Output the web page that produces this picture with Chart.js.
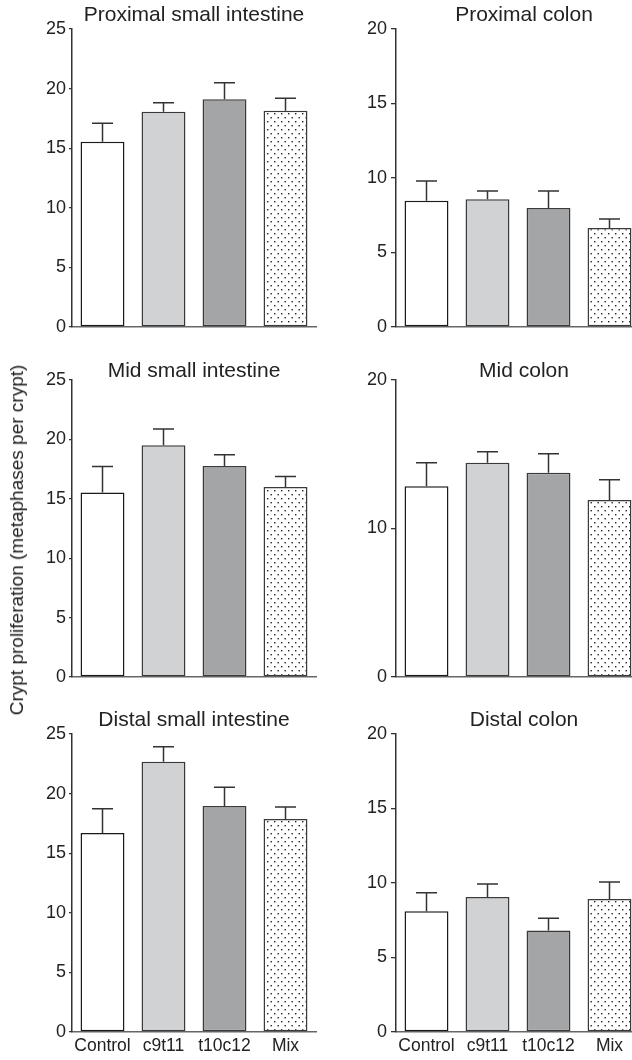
<!DOCTYPE html>
<html>
<head>
<meta charset="utf-8">
<script src="https://cdn.jsdelivr.net/npm/chart.js@4.4.1/dist/chart.umd.min.js"></script>
<style>
  html, body { margin: 0; padding: 0; background: #fff; overflow: hidden; width: 632px; height: 1060px; position: relative; }
  canvas { position: absolute; }
  #ytitle {
    position: absolute; left: 17px; top: 540px;
    transform: translate(-50%, -50%) rotate(-90deg);
    white-space: nowrap; font: 19px "Liberation Sans", Arial, sans-serif; color: #222;
  }
</style>
</head>
<body>
<canvas id="c1" width="320" height="345" style="left:0;top:0"></canvas>
<canvas id="c2" width="320" height="345" style="left:320px;top:0"></canvas>
<canvas id="c3" width="320" height="350" style="left:0;top:345px"></canvas>
<canvas id="c4" width="320" height="350" style="left:320px;top:345px"></canvas>
<canvas id="c5" width="320" height="360" style="left:0;top:700px"></canvas>
<canvas id="c6" width="320" height="360" style="left:320px;top:700px"></canvas>
<div id="ytitle">Crypt proliferation (metaphases per crypt)</div>
<script>
// Treatment groups
const groups = ['Control', 'c9t11', 't10c12', 'Mix'];

// Metaphases per crypt: mean and SEM per segment
const proxSmallMean = [15.55, 18.06, 19.1, 18.15];
const proxSmallSem  = [1.55, 0.75, 1.4, 1.05];
const proxColonMean = [8.47, 8.57, 7.98, 6.64];
const proxColonSem  = [1.33, 0.56, 1.15, 0.6];
const midSmallMean  = [15.52, 19.51, 17.77, 16.0];
const midSmallSem   = [2.19, 1.37, 0.93, 0.87];
const midColonMean  = [12.85, 14.43, 13.76, 11.92];
const midColonSem   = [1.58, 0.74, 1.28, 1.37];
const distSmallMean = [16.69, 22.68, 18.96, 17.87];
const distSmallSem  = [2.04, 1.26, 1.57, 1.01];
const distColonMean = [8.1, 9.06, 6.82, 8.93];
const distColonSem  = [1.25, 0.87, 0.81, 1.14];

// Axis ranges
const smallMax = 25, smallStep = 5;
const colonMax = 20, colonStep = 5, midColonStep = 10;

const FONT = '"Liberation Sans", Arial, Helvetica, sans-serif';

// Stippled fill for the Mix bars
function dotPattern() {
  const t = document.createElement('canvas');
  t.width = 7; t.height = 8;
  const g = t.getContext('2d');
  g.fillStyle = '#fff'; g.fillRect(0, 0, 7, 8);
  g.fillStyle = '#222';
  g.fillRect(1, 1, 1.4, 1.4);
  g.fillRect(4.5, 5, 1.4, 1.4);
  return g.createPattern(t, 'repeat');
}

// Upward SEM whiskers with a cap
const errorBars = {
  id: 'errorBars',
  afterDatasetsDraw(chart) {
    const ctx = chart.ctx, y = chart.scales.y;
    chart.data.datasets.forEach((ds, i) => {
      chart.getDatasetMeta(i).data.forEach((bar, j) => {
        const top = y.getPixelForValue(ds.data[j] + ds.errors[j]);
        ctx.save();
        ctx.strokeStyle = '#333';
        ctx.lineWidth = 1.5;
        ctx.beginPath();
        ctx.moveTo(bar.x, bar.y);
        ctx.lineTo(bar.x, top);
        ctx.moveTo(bar.x - 10.5, top);
        ctx.lineTo(bar.x + 10.5, top);
        ctx.stroke();
        ctx.restore();
      });
    });
  }
};

// Panel heading
const panelTitle = {
  id: 'panelTitle',
  afterDraw(chart, args, opts) {
    const ctx = chart.ctx;
    ctx.save();
    ctx.font = '21px ' + FONT;
    ctx.fillStyle = '#222';
    ctx.textAlign = 'center';
    ctx.textBaseline = 'alphabetic';
    ctx.fillText(opts.text, opts.x, opts.y);
    ctx.restore();
  }
};

const stipple = dotPattern();

function panel(p) {
  const canvas = document.getElementById(p.id);
  const W = canvas.width, H = canvas.height;
  new Chart(canvas, {
    type: 'bar',
    data: {
      labels: groups,
      datasets: [{
        data: p.mean,
        errors: p.sem,
        backgroundColor: ['#ffffff', '#d1d2d4', '#a4a5a7', stipple],
        borderColor: ['#1a1a1a', '#3a3a3a', '#3a3a3a', '#3a3a3a'],
        borderWidth: 1.5,
        borderSkipped: false,
        categoryPercentage: 1,
        barPercentage: 0.72
      }]
    },
    options: {
      responsive: false,
      animation: false,
      events: [],
      layout: { padding: { top: p.top, right: W - p.right, bottom: 0, left: 0 } },
      plugins: {
        legend: { display: false },
        tooltip: { enabled: false },
        panelTitle: { text: p.title, x: p.titleX, y: p.titleY }
      },
      scales: {
        x: {
          grid: { display: false, drawTicks: false },
          border: { display: true, color: '#666', width: 1.5 },
          ticks: { display: p.xLabels, padding: 4, color: '#222', font: { family: FONT, size: 17.5 }, maxRotation: 0 },
          afterFit: s => { s.height = H - p.bottom; }
        },
        y: {
          min: 0, max: p.max,
          grid: { display: true, drawOnChartArea: false, drawTicks: true, tickLength: p.tickLen, color: '#333', lineWidth: 1.3 },
          border: { display: true, color: '#333', width: 1.5 },
          ticks: { stepSize: p.step, padding: p.tickPad, color: '#222', font: { family: FONT, size: 18 } },
          afterFit: s => { s.width = p.left; }
        }
      }
    },
    plugins: [errorBars, panelTitle]
  });
}

panel({ id: 'c1', title: 'Proximal small intestine', mean: proxSmallMean, sem: proxSmallSem, max: smallMax, step: smallStep,
        xLabels: false, left: 72, right: 316, top: 29, bottom: 327, tickLen: 3, tickPad: 3, titleX: 194, titleY: 21 });
panel({ id: 'c2', title: 'Proximal colon', mean: proxColonMean, sem: proxColonSem, max: colonMax, step: colonStep,
        xLabels: false, left: 76, right: 320, top: 29, bottom: 327, tickLen: 5, tickPad: 4, titleX: 204, titleY: 21 });
panel({ id: 'c3', title: 'Mid small intestine', mean: midSmallMean, sem: midSmallSem, max: smallMax, step: smallStep,
        xLabels: false, left: 72, right: 316, top: 35, bottom: 332, tickLen: 3, tickPad: 3, titleX: 194, titleY: 31.5 });
panel({ id: 'c4', title: 'Mid colon', mean: midColonMean, sem: midColonSem, max: colonMax, step: midColonStep,
        xLabels: false, left: 76, right: 320, top: 35, bottom: 332, tickLen: 5, tickPad: 4, titleX: 204, titleY: 31.5 });
panel({ id: 'c5', title: 'Distal small intestine', mean: distSmallMean, sem: distSmallSem, max: smallMax, step: smallStep,
        xLabels: true, left: 72, right: 316, top: 34, bottom: 332, tickLen: 3, tickPad: 3, titleX: 194, titleY: 26 });
panel({ id: 'c6', title: 'Distal colon', mean: distColonMean, sem: distColonSem, max: colonMax, step: colonStep,
        xLabels: true, left: 76, right: 320, top: 34, bottom: 332, tickLen: 5, tickPad: 4, titleX: 204, titleY: 26 });
</script>
</body>
</html>
